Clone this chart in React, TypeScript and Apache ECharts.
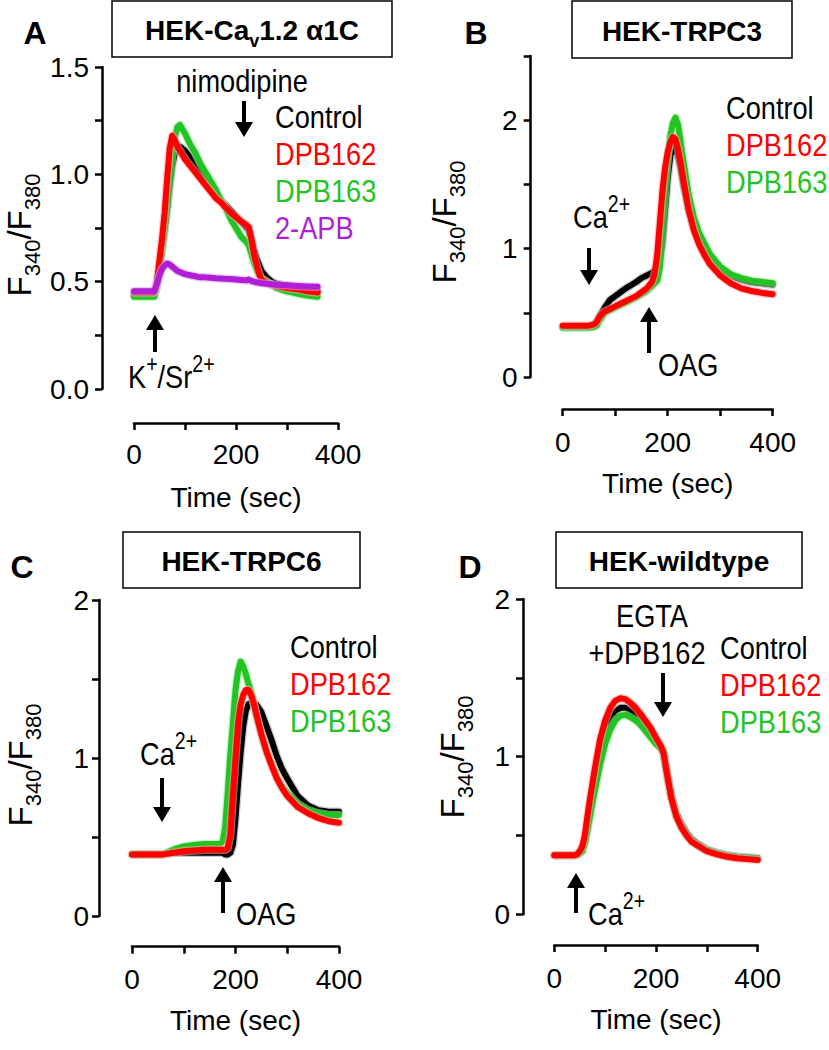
import React, { useEffect, useRef } from "react";
import * as echarts from "echarts";

const FONT = "'Liberation Sans', Arial, Helvetica, sans-serif";
const FS_AX = 28; // axis labels / names
const FS = 32; // annotation + legend text (horizontally condensed)
const SX = 0.85; // horizontal condensing of annotation text

// ---------- Panel A : HEK-Cav1.2 ----------
const tA = [0, 20, 40, 45, 50, 55, 60, 65, 70, 75, 80, 85, 90, 100, 110, 120, 130, 140, 150, 160, 170, 180, 190, 200, 210, 220, 225, 230, 235, 240, 245, 250, 260, 270, 280, 300, 320, 340, 360];
const aControl = [0.44, 0.44, 0.44, 0.48, 0.56, 0.65, 0.74, 0.84, 0.95, 1.04, 1.10, 1.13, 1.13, 1.11, 1.08, 1.04, 1.01, 0.98, 0.95, 0.91, 0.88, 0.855, 0.83, 0.805, 0.78, 0.755, 0.74, 0.70, 0.65, 0.61, 0.58, 0.55, 0.52, 0.50, 0.49, 0.48, 0.47, 0.46, 0.455];
const aDPB162 = [0.45, 0.45, 0.45, 0.50, 0.60, 0.70, 0.82, 0.98, 1.12, 1.18, 1.16, 1.13, 1.11, 1.07, 1.04, 1.01, 0.98, 0.95, 0.92, 0.89, 0.87, 0.845, 0.82, 0.80, 0.78, 0.765, 0.755, 0.70, 0.63, 0.58, 0.54, 0.51, 0.495, 0.485, 0.48, 0.47, 0.465, 0.455, 0.45];
const aDPB163 = [0.43, 0.43, 0.43, 0.48, 0.56, 0.66, 0.75, 0.85, 0.97, 1.08, 1.17, 1.22, 1.23, 1.19, 1.14, 1.10, 1.05, 1.01, 0.97, 0.93, 0.88, 0.84, 0.79, 0.75, 0.71, 0.685, 0.67, 0.63, 0.59, 0.56, 0.53, 0.515, 0.50, 0.485, 0.47, 0.455, 0.445, 0.435, 0.43];
const aAPB = [0.455, 0.455, 0.455, 0.49, 0.53, 0.56, 0.575, 0.585, 0.58, 0.57, 0.56, 0.55, 0.545, 0.535, 0.53, 0.525, 0.52, 0.52, 0.518, 0.516, 0.515, 0.513, 0.512, 0.51, 0.508, 0.506, 0.51, 0.503, 0.50, 0.497, 0.495, 0.493, 0.49, 0.488, 0.486, 0.483, 0.48, 0.478, 0.476];

// ---------- Panel B : HEK-TRPC3 ----------
const tB = [0, 20, 40, 50, 60, 65, 70, 80, 90, 100, 110, 120, 130, 140, 150, 160, 170, 175, 180, 185, 190, 195, 200, 205, 210, 215, 220, 225, 230, 240, 250, 260, 270, 280, 300, 320, 340, 360, 380, 400];
const bControl = [0.39, 0.39, 0.39, 0.39, 0.41, 0.43, 0.47, 0.54, 0.60, 0.63, 0.66, 0.69, 0.715, 0.74, 0.77, 0.79, 0.81, 0.83, 0.85, 0.90, 1.05, 1.30, 1.55, 1.72, 1.80, 1.79, 1.72, 1.62, 1.50, 1.30, 1.16, 1.06, 0.99, 0.93, 0.84, 0.79, 0.76, 0.74, 0.73, 0.72];
const bDPB162 = [0.40, 0.40, 0.40, 0.40, 0.41, 0.43, 0.47, 0.51, 0.53, 0.55, 0.57, 0.59, 0.61, 0.63, 0.66, 0.69, 0.74, 0.80, 0.95, 1.20, 1.45, 1.63, 1.75, 1.83, 1.87, 1.85, 1.77, 1.66, 1.53, 1.30, 1.14, 1.03, 0.95, 0.88, 0.79, 0.73, 0.69, 0.67, 0.655, 0.645];
const bDPB163 = [0.385, 0.385, 0.385, 0.385, 0.39, 0.40, 0.44, 0.50, 0.52, 0.54, 0.56, 0.58, 0.60, 0.62, 0.645, 0.67, 0.71, 0.73, 0.75, 0.85, 1.15, 1.45, 1.70, 1.88, 1.98, 2.02, 1.96, 1.82, 1.68, 1.42, 1.24, 1.12, 1.04, 0.96, 0.86, 0.80, 0.77, 0.75, 0.74, 0.73];

// ---------- Panel C : HEK-TRPC6 ----------
const tC = [0, 20, 40, 60, 80, 100, 120, 140, 160, 170, 175, 180, 185, 190, 195, 200, 205, 210, 215, 220, 225, 230, 235, 240, 250, 260, 270, 280, 290, 300, 320, 340, 360, 380, 400];
const cControl = [0.39, 0.39, 0.39, 0.39, 0.40, 0.40, 0.40, 0.40, 0.40, 0.40, 0.40, 0.39, 0.39, 0.40, 0.45, 0.62, 0.84, 1.04, 1.20, 1.30, 1.34, 1.35, 1.35, 1.34, 1.29, 1.20, 1.11, 1.01, 0.93, 0.87, 0.76, 0.70, 0.67, 0.66, 0.66];
const cDPB162 = [0.39, 0.39, 0.39, 0.39, 0.40, 0.41, 0.415, 0.42, 0.42, 0.42, 0.42, 0.42, 0.43, 0.52, 0.77, 1.00, 1.22, 1.34, 1.40, 1.43, 1.43, 1.40, 1.35, 1.28, 1.15, 1.04, 0.95, 0.87, 0.81, 0.76, 0.69, 0.65, 0.62, 0.60, 0.59];
const cDPB163 = [0.39, 0.39, 0.39, 0.39, 0.42, 0.44, 0.45, 0.455, 0.455, 0.455, 0.47, 0.56, 0.78, 1.02, 1.22, 1.43, 1.55, 1.61, 1.58, 1.53, 1.47, 1.42, 1.35, 1.27, 1.15, 1.04, 0.96, 0.88, 0.82, 0.78, 0.71, 0.67, 0.65, 0.64, 0.64];

// ---------- Panel D : HEK-wildtype ----------
const tD = [0, 20, 40, 45, 50, 55, 60, 65, 70, 75, 80, 90, 100, 110, 120, 130, 140, 150, 160, 170, 180, 190, 200, 210, 215, 220, 225, 230, 240, 250, 260, 270, 280, 300, 320, 340, 360, 380, 400];
const dControl = [0.375, 0.375, 0.375, 0.378, 0.39, 0.41, 0.46, 0.55, 0.65, 0.75, 0.84, 1.01, 1.14, 1.23, 1.285, 1.31, 1.31, 1.29, 1.265, 1.23, 1.19, 1.15, 1.10, 1.06, 1.03, 0.94, 0.85, 0.76, 0.64, 0.57, 0.515, 0.475, 0.45, 0.41, 0.39, 0.375, 0.365, 0.36, 0.355];
const dDPB162 = [0.375, 0.375, 0.375, 0.38, 0.40, 0.43, 0.50, 0.62, 0.73, 0.83, 0.93, 1.11, 1.23, 1.31, 1.355, 1.37, 1.365, 1.34, 1.31, 1.27, 1.225, 1.18, 1.12, 1.065, 1.02, 0.92, 0.83, 0.74, 0.62, 0.55, 0.50, 0.46, 0.44, 0.40, 0.38, 0.365, 0.355, 0.35, 0.345];
const dDPB163 = [0.375, 0.375, 0.375, 0.378, 0.385, 0.40, 0.45, 0.53, 0.62, 0.71, 0.79, 0.95, 1.08, 1.17, 1.23, 1.26, 1.265, 1.25, 1.23, 1.20, 1.16, 1.12, 1.08, 1.05, 1.02, 0.91, 0.82, 0.74, 0.62, 0.55, 0.50, 0.465, 0.44, 0.405, 0.385, 0.37, 0.36, 0.355, 0.35];

// tick labels
const yLabelsA = [0, 0.5, 1.0, 1.5];
const yLabelsBCD = [0, 1, 2];
const xLabels = [0, 200, 400];
const legendNames = ["Control", "DPB162", "DPB163", "2-APB"];

const COL = {
  control: "#000000",
  red: "#ff0000",
  green: "#22c322",
  purple: "#b01ed6",
};
const HALO = {
  control: "#a8a8a8",
  red: "#f7a8a8",
  green: "#9be99b",
  purple: "#dcaaee",
};

function traceSeries(gi: number, t: number[], v: number[], key: keyof typeof COL, name: string) {
  const data = t.map((x, i) => [x, v[i]]);
  return [
    {
      type: "line", name: name + " sem", xAxisIndex: gi, yAxisIndex: gi, data,
      showSymbol: false, symbol: "none", silent: true,
      lineStyle: { width: 8.5, color: HALO[key], opacity: 0.6, cap: "round", join: "round" },
    },
    {
      type: "line", name, xAxisIndex: gi, yAxisIndex: gi, data,
      showSymbol: false, symbol: "none", silent: true,
      lineStyle: { width: 6, color: COL[key], cap: "round", join: "round" },
    },
  ];
}

function mkX(gi: number, offset: number, margin: number) {
  return {
    type: "value", gridIndex: gi, min: 0, max: 400, interval: 100, offset,
    name: "Time (sec)", nameLocation: "middle", nameGap: 60,
    nameTextStyle: { fontSize: FS_AX, fontFamily: FONT, color: "#000" },
    axisLine: { show: true, onZero: false, lineStyle: { color: "#000", width: 2.5 } },
    axisTick: { show: true, length: 7, lineStyle: { color: "#000", width: 2.5 } },
    axisLabel: {
      margin, fontSize: FS_AX, fontFamily: FONT, color: "#000",
      formatter: (v: number) => (xLabels.includes(v) ? String(v) : ""),
    },
    splitLine: { show: false },
  };
}

function mkY(gi: number, max: number, interval: number, offset: number, margin: number, labels: number[], digits: number) {
  return {
    type: "value", gridIndex: gi, min: 0, max, interval, offset,
    axisLine: { show: true, onZero: false, lineStyle: { color: "#000", width: 2.5 } },
    axisTick: { show: true, length: 7, lineStyle: { color: "#000", width: 2.5 } },
    axisLabel: {
      margin, fontSize: FS_AX, fontFamily: FONT, color: "#000",
      formatter: (v: number) => (labels.some((k) => Math.abs(k - v) < 1e-9) ? v.toFixed(digits) : ""),
    },
    splitLine: { show: false },
  };
}

function txt(x: number, y: number, text: string, o: any = {}) {
  const sx = o.sx === undefined ? SX : o.sx;
  return {
    type: "text", x, y, scaleX: sx, scaleY: 1, silent: true,
    style: {
      text, fill: o.color || "#000", fontSize: o.size || FS, fontFamily: FONT,
      fontWeight: o.weight || "normal", align: o.align || "left", verticalAlign: "middle",
      rich: o.rich,
    },
  };
}

const supRich = {
  m: { fontSize: FS, lineHeight: 48, fontFamily: FONT, fill: "#000", color: "#000", verticalAlign: "middle" },
  u: { fontSize: 23, lineHeight: 16, fontFamily: FONT, fill: "#000", color: "#000", verticalAlign: "top" },
};
const yNameRich = {
  m: { fontSize: 33, lineHeight: 48, fontFamily: FONT, fill: "#000", color: "#000", verticalAlign: "middle" },
  s: { fontSize: 22, lineHeight: 22, fontFamily: FONT, fill: "#000", color: "#000", verticalAlign: "bottom" },
};
const titleRich = {
  t: { fontSize: 28, lineHeight: 40, fontFamily: FONT, fontWeight: "bold", fill: "#000", color: "#000", verticalAlign: "middle" },
  v: { fontSize: 18, lineHeight: 16, fontFamily: FONT, fontWeight: "bold", fill: "#000", color: "#000", verticalAlign: "bottom" },
};

function yName(x: number, y: number) {
  return {
    type: "text", x, y, rotation: Math.PI / 2, silent: true,
    style: {
      text: "{m|F}{s|340}{m|/F}{s|380}", rich: yNameRich, fontSize: 33, fontFamily: FONT,
      fill: "#000", align: "center", verticalAlign: "middle",
    },
  };
}

function arrow(x: number, yFrom: number, yTip: number) {
  const dir = yTip > yFrom ? 1 : -1;
  const base = yTip - dir * 15;
  return [
    { type: "line", silent: true, shape: { x1: x, y1: yFrom, x2: x, y2: base }, style: { stroke: "#000", lineWidth: 4 } },
    { type: "polygon", silent: true, shape: { points: [[x - 9, base], [x + 9, base], [x, yTip]] }, style: { fill: "#000" } },
  ];
}

function box(x: number, y: number, w: number, h: number) {
  return { type: "rect", silent: true, shape: { x, y, width: w, height: h }, style: { fill: "#fff", stroke: "#000", lineWidth: 1.5 } };
}

function legend(x: number, y0: number, step: number, names: string[], colors: string[]) {
  return names.map((n, i) => txt(x, y0 + i * step, n, { color: colors[i] }));
}

export default function App() {
  const ref = useRef<HTMLDivElement>(null);
  useEffect(() => {
    if (!ref.current) return;
    const chart = echarts.init(ref.current, undefined, { renderer: "svg" });
    const legendCols = [COL.control, COL.red, COL.green, COL.purple];
    const bold = { weight: "bold", align: "center", size: 28, sx: 1 };
    const letter = { size: 32, weight: "bold", align: "center", sx: 1 };
    const option: any = {
      animation: false,
      backgroundColor: "#fff",
      grid: [
        { left: 134, top: 67, width: 204, height: 322 },
        { left: 562.7, top: 56, width: 210, height: 321 },
        { left: 132, top: 600, width: 207, height: 316 },
        { left: 554.3, top: 599, width: 203.4, height: 315.3 },
      ],
      xAxis: [mkX(0, 34, 17), mkX(1, 32, 19), mkX(2, 30.7, 19), mkX(3, 30.7, 19)],
      yAxis: [
        mkY(0, 1.5, 0.25, 32, 13, yLabelsA, 1),
        mkY(1, 2.5, 0.5, 32, 13, yLabelsBCD, 0),
        mkY(2, 2, 0.5, 33, 10, yLabelsBCD, 0),
        mkY(3, 2, 0.5, 31.3, 13, yLabelsBCD, 0),
      ],
      series: [
        ...traceSeries(0, tA, aControl, "control", "Control"),
        ...traceSeries(0, tA, aDPB163, "green", "DPB163"),
        ...traceSeries(0, tA, aDPB162, "red", "DPB162"),
        ...traceSeries(0, tA, aAPB, "purple", "2-APB"),
        ...traceSeries(1, tB, bControl, "control", "Control"),
        ...traceSeries(1, tB, bDPB163, "green", "DPB163"),
        ...traceSeries(1, tB, bDPB162, "red", "DPB162"),
        ...traceSeries(2, tC, cControl, "control", "Control"),
        ...traceSeries(2, tC, cDPB163, "green", "DPB163"),
        ...traceSeries(2, tC, cDPB162, "red", "DPB162"),
        ...traceSeries(3, tD, dControl, "control", "Control"),
        ...traceSeries(3, tD, dDPB163, "green", "DPB163"),
        ...traceSeries(3, tD, dDPB162, "red", "DPB162"),
      ],
      graphic: [
        // panel letters
        txt(35, 33, "A", letter),
        txt(476, 33, "B", letter),
        txt(22, 567, "C", letter),
        txt(470, 567, "D", letter),
        // title boxes
        box(112, 1, 280, 56),
        txt(252, 30, "{t|HEK-Ca}{v|v}{t|1.2 \u03b11C}", { ...bold, rich: titleRich }),
        box(572, 1, 220, 57),
        txt(682, 31, "HEK-TRPC3", bold),
        box(123, 532, 237, 56),
        txt(241.5, 561, "HEK-TRPC6", bold),
        box(556, 532, 246, 56),
        txt(679, 561, "HEK-wildtype", bold),
        // y axis names
        yName(19, 235),
        yName(444, 222),
        yName(20, 765),
        yName(452, 757),
        // legends
        ...legend(275, 117, 37, legendNames, legendCols),
        ...legend(726, 108, 37, legendNames.slice(0, 3), legendCols),
        ...legend(290, 647, 37, legendNames.slice(0, 3), legendCols),
        ...legend(720, 648, 37, legendNames.slice(0, 3), legendCols),
        // panel A annotations
        txt(242, 81, "nimodipine", { align: "center" }),
        ...arrow(244, 101, 137),
        ...arrow(155, 352, 315),
        txt(128, 377, "{m|K}{u|+}{m|/Sr}{u|2+}", { rich: supRich }),
        // panel B annotations
        txt(573, 217, "{m|Ca}{u|2+}", { rich: supRich }),
        ...arrow(589, 248, 285),
        ...arrow(649, 353, 307),
        txt(658, 365, "OAG"),
        // panel C annotations
        txt(140, 754, "{m|Ca}{u|2+}", { rich: supRich }),
        ...arrow(162, 778, 822),
        ...arrow(223, 913, 867),
        txt(236, 914, "OAG"),
        // panel D annotations
        txt(652, 616, "EGTA", { align: "center" }),
        txt(647, 653, "+DPB162", { align: "center" }),
        ...arrow(663, 673, 717),
        ...arrow(576, 913, 873),
        txt(588, 914, "{m|Ca}{u|2+}", { rich: supRich }),
      ],
    };
    chart.setOption(option);
    return () => chart.dispose();
  }, []);
  return (
    <div
      ref={ref}
      style={{ position: "absolute", left: 0, top: 0, width: 829, height: 1050, background: "#fff" }}
    />
  );
}
